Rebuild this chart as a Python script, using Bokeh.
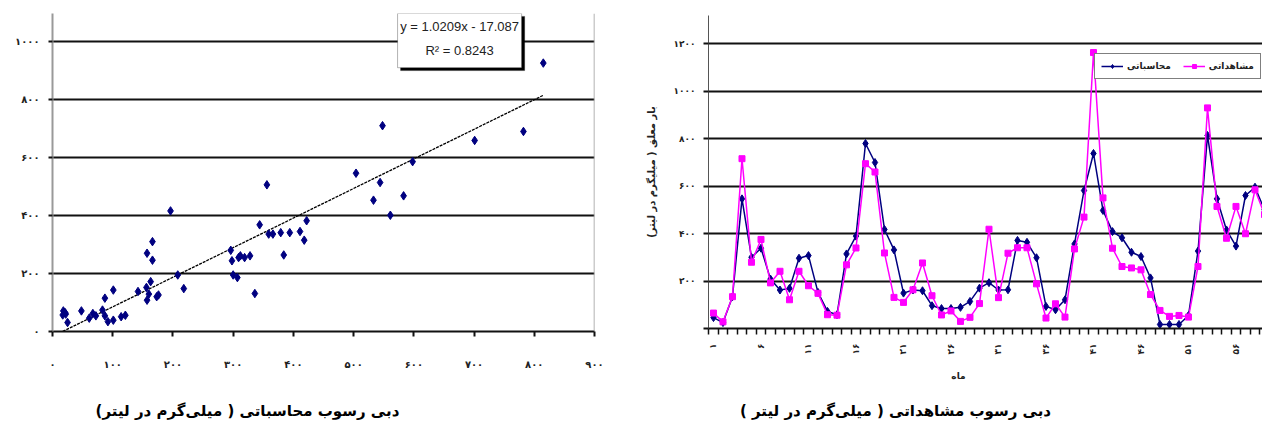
import math
from bokeh.plotting import figure
from bokeh.layouts import row, column
from bokeh.models import (FixedTicker, Span, BoxAnnotation, Label, Legend,
                          LegendItem, Range1d)
from bokeh.core.properties import value
from bokeh.embed import file_html
from bokeh.resources import INLINE

# ---------------- data ----------------
# left: scatter of sediment values with linear trend
scatter_x = [18, 22, 17, 25, 21, 48, 61, 67, 72, 83, 87, 87, 92, 101, 101, 114, 121,
             142, 156, 157, 160, 163, 157, 166, 166, 173, 176, 196, 208, 218,
             296, 298, 300, 307, 309, 312, 319, 328, 336, 344, 356, 359, 366, 379,
             384, 394, 411, 418, 422, 504, 533, 544, 548, 561, 583, 598, 701, 782, 815]
scatter_y = [71, 60, 57, 31, 65, 71, 46, 62, 54, 74, 115, 54, 34, 143, 39, 51, 56,
             138, 152, 108, 129, 172, 270, 310, 246, 120, 126, 416, 195, 148,
             280, 244, 195, 186, 255, 261, 255, 261, 131, 368, 506, 336, 336, 341,
             264, 341, 345, 315, 382, 546, 453, 514, 710, 401, 468, 586, 659, 690, 926]
trend_slope = 1.0209
trend_intercept = -17.087
trend_r2 = 0.8243

# right: monthly series
months = list(range(1, 60))
computed = [46, 25, 134, 546, 300, 338, 208, 162, 169, 296, 307, 152, 72, 58, 314,
            389, 779, 699, 417, 331, 149, 162, 159, 96, 84, 84, 89, 114, 170, 193,
            162, 163, 371, 363, 298, 93, 79, 121, 356, 581, 737, 497, 408, 382, 321,
            303, 213, 17, 17, 17, 55, 326, 813, 546, 415, 347, 560, 595, 500]
observed = [65, 28, 134, 715, 279, 375, 192, 241, 121, 241, 180, 148, 58, 56, 268,
            339, 694, 659, 318, 131, 110, 163, 276, 138, 57, 74, 30, 47, 105, 418,
            130, 317, 340, 340, 188, 44, 104, 48, 335, 469, 1162, 550, 338, 261, 255,
            247, 143, 76, 51, 55, 48, 261, 929, 514, 380, 514, 399, 584, 480]
month_ticks = [1, 6, 11, 16, 21, 26, 31, 36, 41, 46, 51, 56]

left_x_ticks = list(range(0, 901, 100))
left_y_ticks = list(range(0, 1001, 200))
right_y_ticks = list(range(0, 1201, 200))

RLM = "\u200f"
caption_left = RLM + "دبی رسوب محاسباتی ( میلی\u200cگرم در لیتر)" + RLM
caption_right = RLM + "دبی رسوب مشاهداتی ( میلی\u200cگرم در لیتر )" + RLM
y_title_right = RLM + "بار معلق ( میلیگرم در لیتر)" + RLM
x_title_right = "ماه"
legend_computed = "محاسباتی"
legend_observed = "مشاهداتی"

FA = str.maketrans("0123456789", "۰۱۲۳۴۵۶۷۸۹")


def fa(n):
    return str(n).translate(FA)


NAVY = "#000080"
MAG = "#FF00FF"
FONT = "DejaVu Sans"


def style_axis(ax, size):
    ax.major_label_text_font = FONT
    ax.major_label_text_font_size = size
    ax.major_label_text_font_style = "bold"
    ax.major_label_text_color = "#222222"


def text_fig(w, h, x0, x1):
    # frame of this strip is aligned with the chart frame above it; x range = page pixels
    f = figure(width=w, height=h, x_range=Range1d(x0, x1), y_range=Range1d(0, h),
               output_backend="svg", toolbar_location=None, min_border=0)
    f.axis.visible = False
    f.grid.visible = False
    f.outline_line_color = None
    return f


# ---------------- left chart ----------------
p1 = figure(width=630, height=388, x_range=Range1d(0, 900), y_range=Range1d(0, 1097),
            output_backend="svg", toolbar_location=None,
            min_border_left=52, min_border_right=36, min_border_top=13, min_border_bottom=57)
p1.outline_line_color = None
p1.xgrid.grid_line_color = None
p1.ygrid.grid_line_color = "#111111"
p1.ygrid.grid_line_width = 2

p1.xaxis.ticker = FixedTicker(ticks=left_x_ticks)
p1.xaxis.major_label_overrides = {v: fa(v) for v in left_x_ticks}
p1.xaxis.axis_line_color = "#111111"
p1.xaxis.axis_line_width = 2
p1.xaxis.major_tick_in = 0
p1.xaxis.major_tick_out = 5
p1.xaxis.major_tick_line_color = "#111111"
p1.xaxis.major_tick_line_width = 2
p1.xaxis.minor_tick_line_color = None
p1.xaxis.major_label_standoff = 22
style_axis(p1.xaxis, "10px")

p1.yaxis.ticker = FixedTicker(ticks=left_y_ticks)
p1.yaxis.major_label_overrides = {v: fa(v) for v in left_y_ticks}
p1.yaxis.axis_line_color = "#999999"
p1.yaxis.axis_line_width = 2
p1.yaxis.major_tick_in = 0
p1.yaxis.major_tick_out = 4
p1.yaxis.major_tick_line_color = "#111111"
p1.yaxis.major_tick_line_width = 2
p1.yaxis.minor_tick_line_color = None
p1.yaxis.major_label_standoff = 9
style_axis(p1.yaxis, "10px")

p1.add_layout(Span(location=900, dimension="height", line_color="#999999", line_width=1.5))

tx0, tx1 = min(scatter_x), max(scatter_x)
p1.line([tx0, tx1], [trend_slope * tx0 + trend_intercept, trend_slope * tx1 + trend_intercept],
        line_color="black", line_width=1.3, line_dash="3 1")
p1.scatter(scatter_x, scatter_y, marker="diamond", size=8.5, color=NAVY)

# equation box
p1.add_layout(BoxAnnotation(left=578, right=784, top=1087, bottom=900,
                            fill_color="black", fill_alpha=1, line_color="black"))
p1.add_layout(BoxAnnotation(left=573, right=779, top=1097, bottom=910,
                            fill_color="white", fill_alpha=1, line_color="black", line_width=1))
p1.add_layout(Label(x=676, y=1053, text=f"y = {trend_slope}x - {abs(trend_intercept)}",
                    text_align="center", text_baseline="middle",
                    text_font="Liberation Sans", text_font_size="13px", text_color="#222222"))
p1.add_layout(Label(x=676, y=968, text=f"R² = {trend_r2}",
                    text_align="center", text_baseline="middle",
                    text_font="Liberation Sans", text_font_size="13px", text_color="#222222"))

c1 = text_fig(630, 45, 52, 594)
c1.text(x=[247], y=[23], text=[caption_left], text_align="center", text_baseline="middle",
        text_font=value(FONT), text_font_size="15px", text_font_style="bold",
        text_color="black")

# ---------------- right chart ----------------
p2 = figure(width=632, height=365, x_range=Range1d(0.474, 58.79), y_range=Range1d(0, 1318),
            output_backend="svg", toolbar_location=None,
            min_border_left=78, min_border_right=0, min_border_top=15, min_border_bottom=37)
p2.outline_line_color = None
p2.xgrid.grid_line_color = None
p2.ygrid.grid_line_color = "#111111"
p2.ygrid.grid_line_width = 2

boundaries = [m - 0.5 for m in months] + [months[-1] + 0.5]
p2.xaxis.ticker = FixedTicker(ticks=month_ticks, minor_ticks=boundaries)
p2.xaxis.major_label_overrides = {v: fa(v) for v in month_ticks}
p2.xaxis.major_tick_line_color = None
p2.xaxis.minor_tick_in = 0
p2.xaxis.minor_tick_out = 6
p2.xaxis.minor_tick_line_color = "#111111"
p2.xaxis.minor_tick_line_width = 1.5
p2.xaxis.axis_line_color = "#111111"
p2.xaxis.axis_line_width = 2
p2.xaxis.major_label_orientation = math.pi / 2
p2.xaxis.major_label_standoff = 9
style_axis(p2.xaxis, "9px")

p2.yaxis.ticker = FixedTicker(ticks=right_y_ticks)
p2.yaxis.major_label_overrides = {v: (fa(v) if v else "") for v in right_y_ticks}
p2.yaxis.axis_line_color = "#555555"
p2.yaxis.axis_line_width = 1
p2.yaxis.major_tick_in = 0
p2.yaxis.major_tick_out = 5
p2.yaxis.major_tick_line_color = "#111111"
p2.yaxis.major_tick_line_width = 2
p2.yaxis.minor_tick_line_color = None
p2.yaxis.major_label_standoff = 8
style_axis(p2.yaxis, "9px")
p2.yaxis.axis_label = y_title_right
p2.yaxis.axis_label_standoff = 14
p2.yaxis.axis_label_text_font = FONT
p2.yaxis.axis_label_text_font_size = "10px"
p2.yaxis.axis_label_text_font_style = "bold"
p2.yaxis.axis_label_text_color = "#222222"

l_c = p2.line(months, computed, line_color=NAVY, line_width=1.5)
s_c = p2.scatter(months, computed, marker="diamond", size=8, color=NAVY)
l_o = p2.line(months, observed, line_color=MAG, line_width=1.5)
s_o = p2.scatter(months, observed, marker="square", size=6, color=MAG)

legend = Legend(items=[LegendItem(label=legend_computed, renderers=[l_c, s_c]),
                       LegendItem(label=legend_observed, renderers=[l_o, s_o])],
                orientation="horizontal", location=(386, 249),
                border_line_color="black", border_line_width=1.5,
                background_fill_color="white", background_fill_alpha=1,
                label_text_font=FONT, label_text_font_size="9px",
                label_text_font_style="bold", label_text_color="#222222",
                glyph_width=22, glyph_height=10, label_standoff=4, spacing=12,
                padding=6, margin=0, label_height=12)
p2.add_layout(legend)

c2 = text_fig(632, 68, 708, 1262)
c2.text(x=[958], y=[58], text=[x_title_right], text_align="center", text_baseline="middle",
        text_font=value(FONT), text_font_size="9px", text_font_style="bold",
        text_color="#222222")
c2.text(x=[895], y=[23], text=[caption_right], text_align="center", text_baseline="middle",
        text_font=value(FONT), text_font_size="15px", text_font_style="bold",
        text_color="black")

layout = row(column(p1, c1), column(p2, c2))
open("out.html", "w").write(file_html(layout, INLINE))
